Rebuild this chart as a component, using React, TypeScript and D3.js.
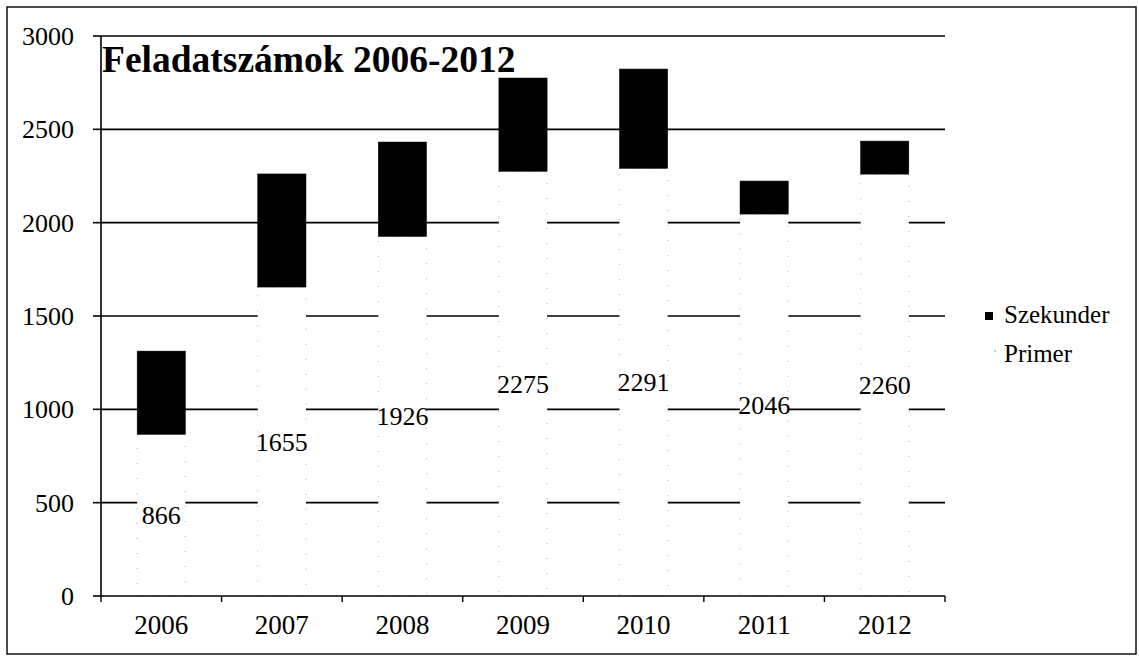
import * as d3 from 'd3';
import React from 'react';

const years = ['2006', '2007', '2008', '2009', '2010', '2011', '2012'];
const primer = [866, 1655, 1926, 2275, 2291, 2046, 2260];
const szekunder = [446, 606, 506, 500, 532, 177, 177];
const yTicks = [0, 500, 1000, 1500, 2000, 2500, 3000];
const seriesNames = ['Primer', 'Szekunder'];

const W = 1139;
const H = 657;
const left = 101;
const right = 945;
const top = 36;
const bottom = 596;
const font = '"Times New Roman", "Liberation Serif", serif';

export default function App() {
  const rows = years.map((y, i) => ({ year: y, Primer: primer[i], Szekunder: szekunder[i] }));
  const stacked = d3.stack<any>().keys(seriesNames)(rows);

  const x = d3.scaleBand<string>().domain(years).range([left, right]).paddingInner(0.6).paddingOuter(0.3);
  const y = d3.scaleLinear().domain([0, 3000]).range([bottom, top]);
  const step = x.step();
  const bounds = d3.range(years.length + 1).map((i) => left + i * step);

  return (
    <svg width={W} height={H} style={{ display: 'block', position: 'absolute', left: 0, top: 0 }} fontFamily={font}>
      <rect x={0} y={0} width={W} height={H} fill="#fff" />
      <rect x={7} y={7} width={1129} height={647} fill="none" stroke="#111" strokeWidth={1.5} />

      {/* grid */}
      {yTicks.slice(1).map((t) => (
        <line key={t} x1={left} x2={right} y1={y(t)} y2={y(t)} stroke="#000" strokeWidth={1.6} />
      ))}

      {/* bars */}
      {stacked.map((s) =>
        s.map((d, i) => {
          const isPrimer = s.key === 'Primer';
          return (
            <rect
              key={s.key + i}
              x={x(years[i])}
              y={y(d[1])}
              width={x.bandwidth()}
              height={y(d[0]) - y(d[1])}
              fill={isPrimer ? '#fff' : '#000'}
              stroke={isPrimer ? '#aaa' : '#000'}
              strokeWidth={isPrimer ? 1 : 0.5}
              strokeDasharray={isPrimer ? '1,14' : undefined}
            />
          );
        })
      )}

      {/* axes */}
      <line x1={left} x2={left} y1={top} y2={bottom} stroke="#000" strokeWidth={1.6} />
      <line x1={left} x2={right} y1={bottom} y2={bottom} stroke="#000" strokeWidth={1.6} />
      {yTicks.map((t) => (
        <g key={t}>
          <line x1={left - 8} x2={left} y1={y(t)} y2={y(t)} stroke="#000" strokeWidth={1.6} />
          <text x={74} y={y(t)} dy="0.35em" textAnchor="end" fontSize={26}>
            {t}
          </text>
        </g>
      ))}
      {bounds.map((b, i) => (
        <line key={i} x1={b} x2={b} y1={bottom} y2={bottom + 6} stroke="#000" strokeWidth={1.4} />
      ))}
      {years.map((yr) => (
        <text key={yr} x={(x(yr) as number) + x.bandwidth() / 2} y={634} textAnchor="middle" fontSize={27}>
          {yr}
        </text>
      ))}

      {/* data labels */}
      {primer.map((v, i) => (
        <text
          key={i}
          x={(x(years[i]) as number) + x.bandwidth() / 2}
          y={y(v / 2)}
          dy="0.35em"
          textAnchor="middle"
          fontSize={26}
        >
          {v}
        </text>
      ))}

      {/* title */}
      <text x={102} y={72} fontSize={37.5} fontWeight="bold">
        Feladatszámok 2006-2012
      </text>

      {/* legend */}
      <rect x={985} y={312} width={8} height={8} fill="#000" />
      <text x={1004} y={323} fontSize={25}>
        Szekunder
      </text>
      <rect x={994} y={350} width={2} height={2} fill="#ccc" />
      <text x={1004} y={362} fontSize={25}>
        Primer
      </text>
    </svg>
  );
}
